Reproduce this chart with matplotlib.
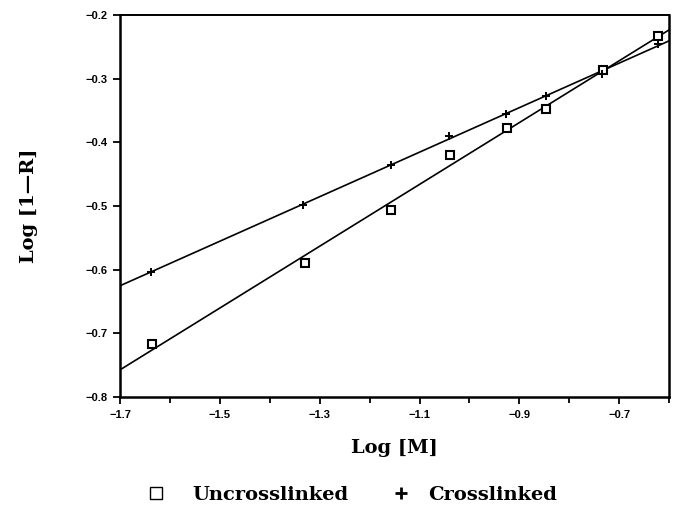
import numpy as np
import matplotlib
matplotlib.use("Agg")
import matplotlib.pyplot as plt
from matplotlib.lines import Line2D

# Log [M] values
log_m_uncross = [-1.636, -1.329, -1.158, -1.038, -0.924, -0.846, -0.733, -0.622]
log_r_uncross = [-0.717, -0.590, -0.507, -0.420, -0.378, -0.348, -0.286, -0.233]

log_m_cross = [-1.638, -1.333, -1.158, -1.040, -0.926, -0.847, -0.734, -0.622]
log_r_cross = [-0.604, -0.498, -0.435, -0.390, -0.356, -0.327, -0.293, -0.245]

x_ticks = [-1.7, -1.5, -1.3, -1.1, -0.9, -0.7]
x_tick_labels = ["\u22121.7", "\u22121.5", "\u22121.3", "\u22121.1", "\u22120.9", "\u22120.7"]
y_ticks = [-0.8, -0.7, -0.6, -0.5, -0.4, -0.3, -0.2]
y_tick_labels = ["\u22120.8", "\u22120.7", "\u22120.6", "\u22120.5", "\u22120.4", "\u22120.3", "\u22120.2"]

SERIF = "DejaVu Serif"
TICKFONT = "Liberation Sans"

fig = plt.figure(figsize=(6.8, 5.12), dpi=100)
ax = fig.add_axes([0.1765, 0.2246, 0.8075, 0.7461])

# least-squares lines across the whole x range
xfit = np.array([-1.7, -0.6])
for xs, ys in [(log_m_uncross, log_r_uncross), (log_m_cross, log_r_cross)]:
    slope, icpt = np.polyfit(xs, ys, 1)
    ax.plot(xfit, slope * xfit + icpt, color="black", linewidth=1.2)

ax.plot(log_m_uncross, log_r_uncross, linestyle="none", marker="s", markersize=5.5,
        markerfacecolor="white", markeredgecolor="black", markeredgewidth=1.5)
ax.plot(log_m_cross, log_r_cross, linestyle="none", marker="+", markersize=6,
        color="black", markeredgewidth=1.4)

ax.set_xlim(-1.7, -0.604)
ax.set_ylim(-0.8, -0.2)
ax.set_xticks(x_ticks)
ax.set_xticklabels(x_tick_labels, fontfamily=TICKFONT, fontweight="bold", fontsize=8)
ax.set_xticks([-1.6, -1.4, -1.2, -1.0, -0.8, -0.6], minor=True)
ax.set_yticks(y_ticks)
ax.set_yticklabels(y_tick_labels, fontfamily=TICKFONT, fontweight="bold", fontsize=8)
ax.tick_params(axis="both", which="both", direction="out", length=5, width=1.3, pad=4)
ax.tick_params(axis="x", which="minor", length=4)

for side in ["left", "bottom", "right"]:
    ax.spines[side].set_linewidth(1.8)
ax.spines["top"].set_linewidth(1.4)

ax.set_xlabel("Log [M]", fontfamily=SERIF, fontweight="bold", fontsize=14, labelpad=14)
ax.set_ylabel("Log [1\u2014R]", fontfamily=SERIF, fontweight="bold", fontsize=14, labelpad=34)

legend_font = {"family": SERIF, "weight": "bold", "size": 14}
h_uncross = Line2D([], [], linestyle="none", marker="s", markersize=9, markerfacecolor="white",
                   markeredgecolor="black", markeredgewidth=1.0)
h_cross = Line2D([], [], linestyle="none", marker="+", markersize=8, color="black", markeredgewidth=2.0)
fig.legend([h_uncross], ["Uncrosslinked"], loc="center left", bbox_to_anchor=(0.215, 0.033),
           frameon=False, prop=legend_font, handlelength=1.0, handletextpad=1.4,
           borderpad=0, borderaxespad=0)
fig.legend([h_cross], ["Crosslinked"], loc="center left", bbox_to_anchor=(0.576, 0.033),
           frameon=False, prop=legend_font, handlelength=1.0, handletextpad=0.86,
           borderpad=0, borderaxespad=0)

fig.savefig("out.png", dpi=100)
